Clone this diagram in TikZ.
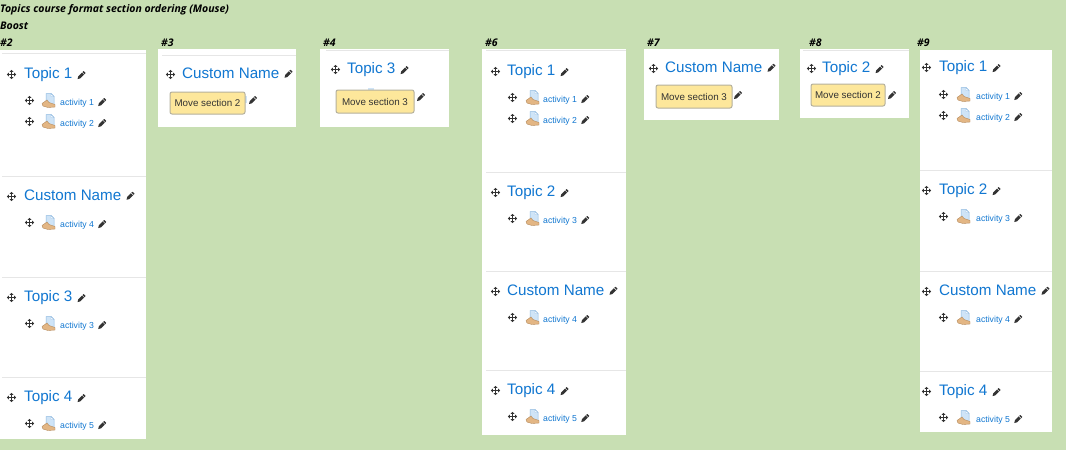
\documentclass[tikz,border=0pt]{standalone}
\usepackage{fontspec}
\setmainfont{Liberation Sans}
\newfontfamily\headfont{Open Sans}
\definecolor{bgc}{HTML}{C8DFB3}
\definecolor{linkc}{HTML}{1177D1}
\definecolor{sepc}{HTML}{E6E6E6}
\definecolor{darkc}{HTML}{333333}
\definecolor{tipc}{HTML}{FDE79B}
\definecolor{tipb}{HTML}{B5B09C}
\definecolor{pagec}{HTML}{CFE4F7}
\definecolor{pageb}{HTML}{8DB8E0}
\definecolor{handc}{HTML}{E3B684}
\definecolor{handb}{HTML}{B58A5C}
\tikzset{
  x=1pt,y=-1pt,
  panel/.style={fill=white,draw=none},
  sepline/.style={draw=sepc,line width=1pt},
  headlab/.style={font=\headfont\bfseries\itshape\fontsize{10.5}{11}\selectfont,text=black,anchor=base west,inner sep=0pt},
  topiclab/.style={font=\fontsize{15.2}{16}\selectfont,text=linkc,anchor=base west,inner sep=0pt},
  activitylab/.style={font=\fontsize{8.7}{10}\selectfont,text=linkc,anchor=west,inner sep=0pt},
  tiplab/.style={font=\fontsize{9.8}{11}\selectfont,text=darkc,fill=tipc,draw=tipb,line width=1pt,rounded corners=2pt,inner sep=0pt,anchor=center},
  pics/moveicon/.style={code={
    \fill[darkc] (-3.2,-.4) rectangle (3.2,.4);
    \fill[darkc] (-.4,-3.2) rectangle (.4,3.2);
    \fill[darkc] (-4.7,0) -- (-2.7,-2) -- (-2.7,2) -- cycle;
    \fill[darkc] (4.7,0) -- (2.7,-2) -- (2.7,2) -- cycle;
    \fill[darkc] (0,-4.7) -- (-2,-2.7) -- (2,-2.7) -- cycle;
    \fill[darkc] (0,4.7) -- (-2,2.7) -- (2,2.7) -- cycle;
  }},
  pics/pencilicon/.style={code={
    \fill[darkc] (-4,4) -- (-3.3,1.2) -- (1.4,-3.5) -- (2.1,-4) -- (4,-2.1) -- (3.5,-1.4) -- (-1.2,3.3) -- cycle;
    \draw[white,line width=.5pt] (.6,-2.8) -- (2.8,-.6);
  }},
  pics/activityicon/.style={code={
    \fill[pagec,draw=pageb,line width=.5pt] (-3,-7) -- (2,-7) -- (5,-4) -- (5,4) -- (-3,4) -- cycle;
    \fill[white,draw=pageb,line width=.4pt] (2,-7) -- (2,-4) -- (5,-4) -- cycle;
    \fill[handc,draw=handb,line width=.4pt] (-7,3) -- (-2,-.5) -- (0,2) -- (6,4) -- (6,6.5) -- (-1,7) -- (-6,5.5) -- cycle;
  }}
}
\newcommand{\topicrow}[5]{% name, move x, text x, y, label
  \pic at (#2+.5,#4+1.5) {moveicon};
  \node[topiclab] (#1) at (#3,#4+5) {#5};
  \pic at ([xshift=9pt,yshift=-1pt]#1.east) {pencilicon};
}
\newcommand{\actrow}[6]{% name, move x, icon x, text x, y, label
  \pic at (#2+.5,#5-1.5) {moveicon};
  \pic at (#3,#5-1.5) {activityicon};
  \node[activitylab] (#1) at (#4,#5+1.5) {#6};
  \pic at ([xshift=8pt,yshift=1.5pt]#1.east) {pencilicon};
}
\begin{document}
\begin{tikzpicture}
\fill[bgc] (0,0) rectangle (1066,450);
\useasboundingbox (0,0) rectangle (1066,450);
% headings
\node[headlab] (title) at (0,12) {Topics course format section ordering (Mouse)};
\node[headlab] (boost) at (0,29) {Boost};
\node[headlab] (h2) at (0,46) {\#2};
\node[headlab] (h3) at (161,46) {\#3};
\node[headlab] (h4) at (323,46) {\#4};
\node[headlab] (h6) at (485,46) {\#6};
\node[headlab] (h7) at (647,46) {\#7};
\node[headlab] (h8) at (809,46) {\#8};
\node[headlab] (h9) at (917,46) {\#9};
% panels
\path[panel] (0,50) rectangle (146,439);
\path[panel] (158,49) rectangle (296,127);
\path[panel] (320,49) rectangle (449,127);
\path[panel] (482,49) rectangle (626,435);
\path[panel] (644,49) rectangle (779,120);
\path[panel] (800,49) rectangle (909,118);
\path[panel] (920,50) rectangle (1052,432);
% separators
\foreach \y in {53.5,176.5,277.5,377.5} \draw[sepline] (2,\y) -- (146,\y);
\draw[sepline] (162,55.5) -- (296,55.5);
\draw[sepline] (326,50.5) -- (449,50.5);
\foreach \y in {50.5,172.5,271.5,370.5} \draw[sepline] (486,\y) -- (626,\y);
\draw[sepline] (803,50.5) -- (909,50.5);
\foreach \y in {170.5,271.5,371.5} \draw[sepline] (920,\y) -- (1052,\y);
% column 2
\topicrow{a1}{11}{24}{73}{Topic 1}
\actrow{a1a}{29}{49}{60}{102}{activity 1}
\actrow{a1b}{29}{49}{60}{123}{activity 2}
\topicrow{a2}{11}{24}{195}{Custom Name}
\actrow{a2a}{29}{49}{60}{224}{activity 4}
\topicrow{a3}{11}{24}{296}{Topic 3}
\actrow{a3a}{29}{49}{60}{325}{activity 3}
\topicrow{a4}{11}{24}{396}{Topic 4}
\actrow{a4a}{29}{49}{60}{425}{activity 5}
% column 3
\topicrow{b1}{170}{182}{73}{Custom Name}
\fill[pagec] (244,96) rectangle (247,103);
\node[tiplab,minimum width=75pt,minimum height=22pt] (b2) at (207.5,103) {Move section 2};
\pic at (253,100) {pencilicon};
% column 4
\topicrow{c1}{335}{347}{68}{Topic 3}
\fill[pagec] (368,88) rectangle (374,91);
\node[tiplab,minimum width=78pt,minimum height=23pt] (c2) at (375,101.5) {Move section 3};
\pic at (421,97) {pencilicon};
% column 6
\topicrow{d1}{495}{507}{70}{Topic 1}
\actrow{d1a}{512}{533}{543}{99}{activity 1}
\actrow{d1b}{512}{533}{543}{120}{activity 2}
\topicrow{d2}{495}{507}{191}{Topic 2}
\actrow{d2a}{512}{533}{543}{220}{activity 3}
\topicrow{d3}{495}{507}{290}{Custom Name}
\actrow{d3a}{512}{533}{543}{319}{activity 4}
\topicrow{d4}{495}{507}{389}{Topic 4}
\actrow{d4a}{512}{533}{543}{418}{activity 5}
% column 7
\topicrow{e1}{653}{665}{67}{Custom Name}
\node[tiplab,minimum width=76pt,minimum height=23pt] (e2) at (694,96.5) {Move section 3};
\pic at (738,95) {pencilicon};
% column 8
\topicrow{f1}{811}{822}{67}{Topic 2}
\node[tiplab,minimum width=74pt,minimum height=22pt] (f2) at (848,95) {Move section 2};
\pic at (892,95) {pencilicon};
% column 9
\topicrow{g1}{926}{939}{66}{Topic 1}
\actrow{g1a}{943}{964}{976}{96}{activity 1}
\actrow{g1b}{943}{964}{976}{117}{activity 2}
\topicrow{g2}{926}{939}{189}{Topic 2}
\actrow{g2a}{943}{964}{976}{218}{activity 3}
\topicrow{g3}{926}{939}{290}{Custom Name}
\actrow{g3a}{943}{964}{976}{319}{activity 4}
\topicrow{g4}{926}{939}{390}{Topic 4}
\actrow{g4a}{943}{964}{976}{419}{activity 5}
\end{tikzpicture}
\end{document}
